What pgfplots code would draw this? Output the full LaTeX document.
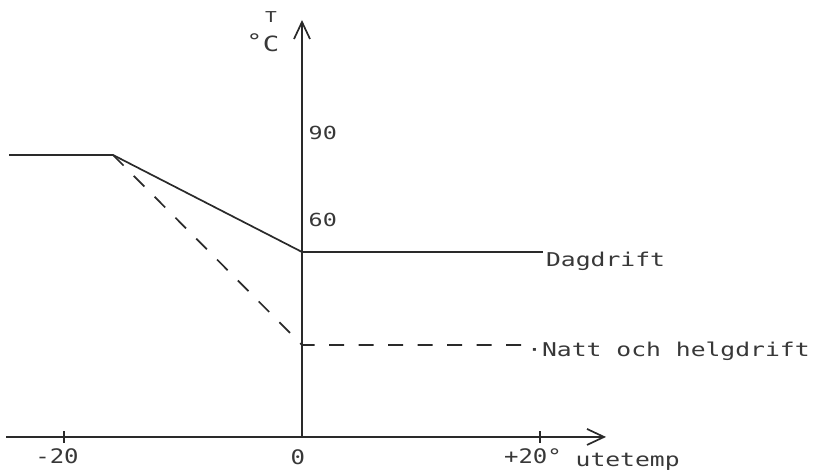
\documentclass[border=0pt]{standalone}
\usepackage{fontspec}
\usepackage{pgfplots}
\pgfplotsset{compat=1.18}
\usetikzlibrary{arrows.meta}
\newfontfamily\pf{DejaVu Sans Mono}[FakeStretch=1.3]
\newfontfamily\pft{DejaVu Sans Mono}[FakeStretch=1.2]
\definecolor{ink}{HTML}{2A2A2A}
\definecolor{txt}{HTML}{383838}
\begin{document}
\begin{tikzpicture}
\begin{axis}[
  scale only axis, width=599.76pt, height=417pt,
  xmin=-24.85, xmax=25.55, ymin=0, ymax=417,
  axis lines=middle, clip=false,
  axis line style={ink, line width=1.7pt, -{Straight Barb[length=17pt,width=16pt,line width=1.7pt]}},
  xtick={-20,20}, xticklabels={-20,+20°},
  major tick length=12pt, tick style={ink,line width=1.7pt},
  ytick=\empty,
  xticklabel style={font=\pft\fontsize{20}{20}\selectfont, text=txt, anchor=base, inner sep=0pt, yshift=-21pt, xshift=-7pt},
]
\addplot[ink, line width=1.7pt] coordinates {(-24.62,282) (-15.88,282) (0,185) (20.25,185)};
\addplot[ink, line width=1.7pt, dash pattern=on 15pt off 14.5pt] coordinates {(-15.88,282) (0,92) (18.6,92)};

\node[font=\pft\fontsize{20}{20}\selectfont, text=txt, anchor=base, inner sep=0pt] at (axis cs:-0.34,-28) {0};
\node[font=\pf\fontsize{19}{19}\selectfont, text=txt, anchor=base west, inner sep=0pt] at (axis cs:20.5,170) {Dagdrift};
\node[font=\pf\fontsize{19}{19}\selectfont, text=txt, anchor=base west, inner sep=0pt] at (axis cs:18.91,80) {·Natt och helgdrift};
\node[font=\pf\fontsize{19}{19}\selectfont, text=txt, anchor=base west, inner sep=0pt] at (axis cs:22.98,-30) {utetemp};
\node[font=\pf\fontsize{18}{18}\selectfont, text=txt, anchor=base west, inner sep=0pt] at (axis cs:0.55,297) {90};
\node[font=\pf\fontsize{18}{18}\selectfont, text=txt, anchor=base west, inner sep=0pt] at (axis cs:0.55,210) {60};
\node[font=\pf\fontsize{15}{15}\selectfont, text=txt, anchor=base, inner sep=0pt] at (axis cs:-2.6,414) {T};
\node[font=\pf\fontsize{21}{21}\selectfont, text=txt, anchor=base, inner sep=0pt] at (axis cs:-2.6,385) {C};
\node[font=\pf\fontsize{20}{20}\selectfont, text=txt, anchor=north, inner sep=0pt] at (axis cs:-3.99,404) {°};

\coordinate (bl) at (axis cs:-25.38,-34);
\coordinate (tr) at (axis cs:43.45,437);
\end{axis}
\pgfresetboundingbox
\path[use as bounding box] (bl) rectangle (tr);
\end{tikzpicture}
\end{document}
